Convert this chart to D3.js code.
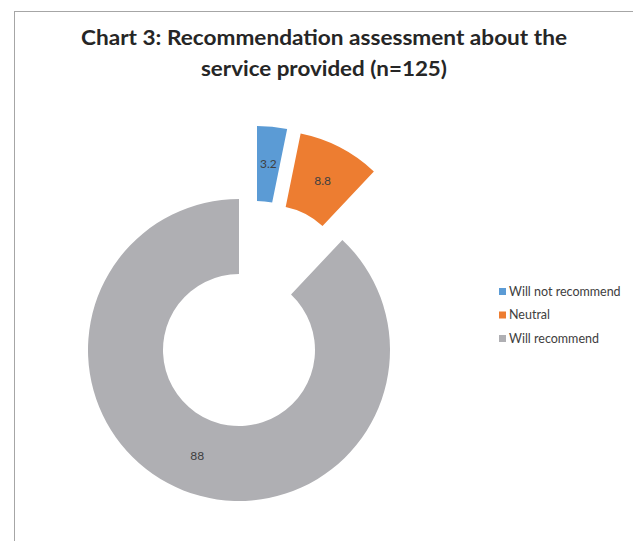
<!DOCTYPE html>
<html>
<head>
<meta charset="utf-8">
<script src="https://cdn.jsdelivr.net/npm/d3@7"></script>
<style>
  html, body { margin: 0; padding: 0; background: #fff; }
  svg { display: block; }
</style>
</head>
<body>
<svg id="chart" width="633" height="541"></svg>
<script>
// ---- data ----
const categories = ["Will not recommend", "Neutral", "Will recommend"];
const values = [3.2, 8.8, 88];
const valueLabels = ["3.2", "8.8", "88"];
const titleLines = ["Chart 3: Recommendation assessment about the", "service provided (n=125)"];

// ---- layout / style ----
const colors = ["#5b9bd5", "#ed7d31", "#afafb3"];
const explodeOffsets = [[18, -73], [31.5, -68.5], [0, 0]];
const W = 633, H = 541;
const cx = 239, cy = 350, rOuter = 151, rInner = 76;
const font = "Lato, 'Open Sans', 'DejaVu Sans', sans-serif";

const svg = d3.select("#chart");
svg.append("rect").attr("width", W).attr("height", H).attr("fill", "#fff");

// chart area frame (extends past right/bottom edges)
svg.append("rect")
  .attr("x", 14.5).attr("y", 11.5)
  .attr("width", W + 20).attr("height", H + 20)
  .attr("fill", "none").attr("stroke", "#a6a6a6").attr("stroke-width", 1);

// title
const titleG = svg.append("g");
const titleWidths = [486, 246];
titleLines.forEach((t, i) => {
  titleG.append("text")
    .attr("x", 324).attr("y", 44.5 + i * 31.5)
    .attr("text-anchor", "middle")
    .attr("font-family", font).attr("font-weight", "bold")
    .attr("font-size", 21).attr("fill", "#262626")
    .attr("textLength", titleWidths[i]).attr("lengthAdjust", "spacingAndGlyphs")
    .text(t);
});

// donut
const data = categories.map((c, i) => ({ category: c, value: values[i], label: valueLabels[i], i }));
const pie = d3.pie().value(d => d.value).sort(null);
const arc = d3.arc().innerRadius(rInner).outerRadius(rOuter);
const arcs = pie(data);

const g = svg.append("g").attr("transform", `translate(${cx},${cy})`);
const slices = g.selectAll("g.slice").data(arcs).enter().append("g")
  .attr("class", "slice")
  .attr("transform", d => `translate(${explodeOffsets[d.data.i][0]},${explodeOffsets[d.data.i][1]})`);

slices.append("path")
  .attr("d", arc)
  .attr("fill", d => colors[d.data.i]);

slices.append("text")
  .attr("transform", d => `translate(${arc.centroid(d)})`)
  .attr("text-anchor", "middle").attr("dy", "0.35em")
  .attr("font-family", font).attr("font-size", 12).attr("fill", "#404040")
  .text(d => d.data.label);

// legend
const legend = svg.append("g").attr("transform", "translate(499,288)");
const rowH = 23.5;
categories.forEach((c, i) => {
  const row = legend.append("g").attr("transform", `translate(0,${i * rowH})`);
  row.append("rect").attr("x", 0).attr("y", 0).attr("width", 7).attr("height", 7)
    .attr("fill", colors[i]);
  row.append("text").attr("x", 10).attr("y", 7.5)
    .attr("font-family", font).attr("font-size", 12.5).attr("fill", "#404040")
    .text(c);
});
</script>
</body>
</html>
